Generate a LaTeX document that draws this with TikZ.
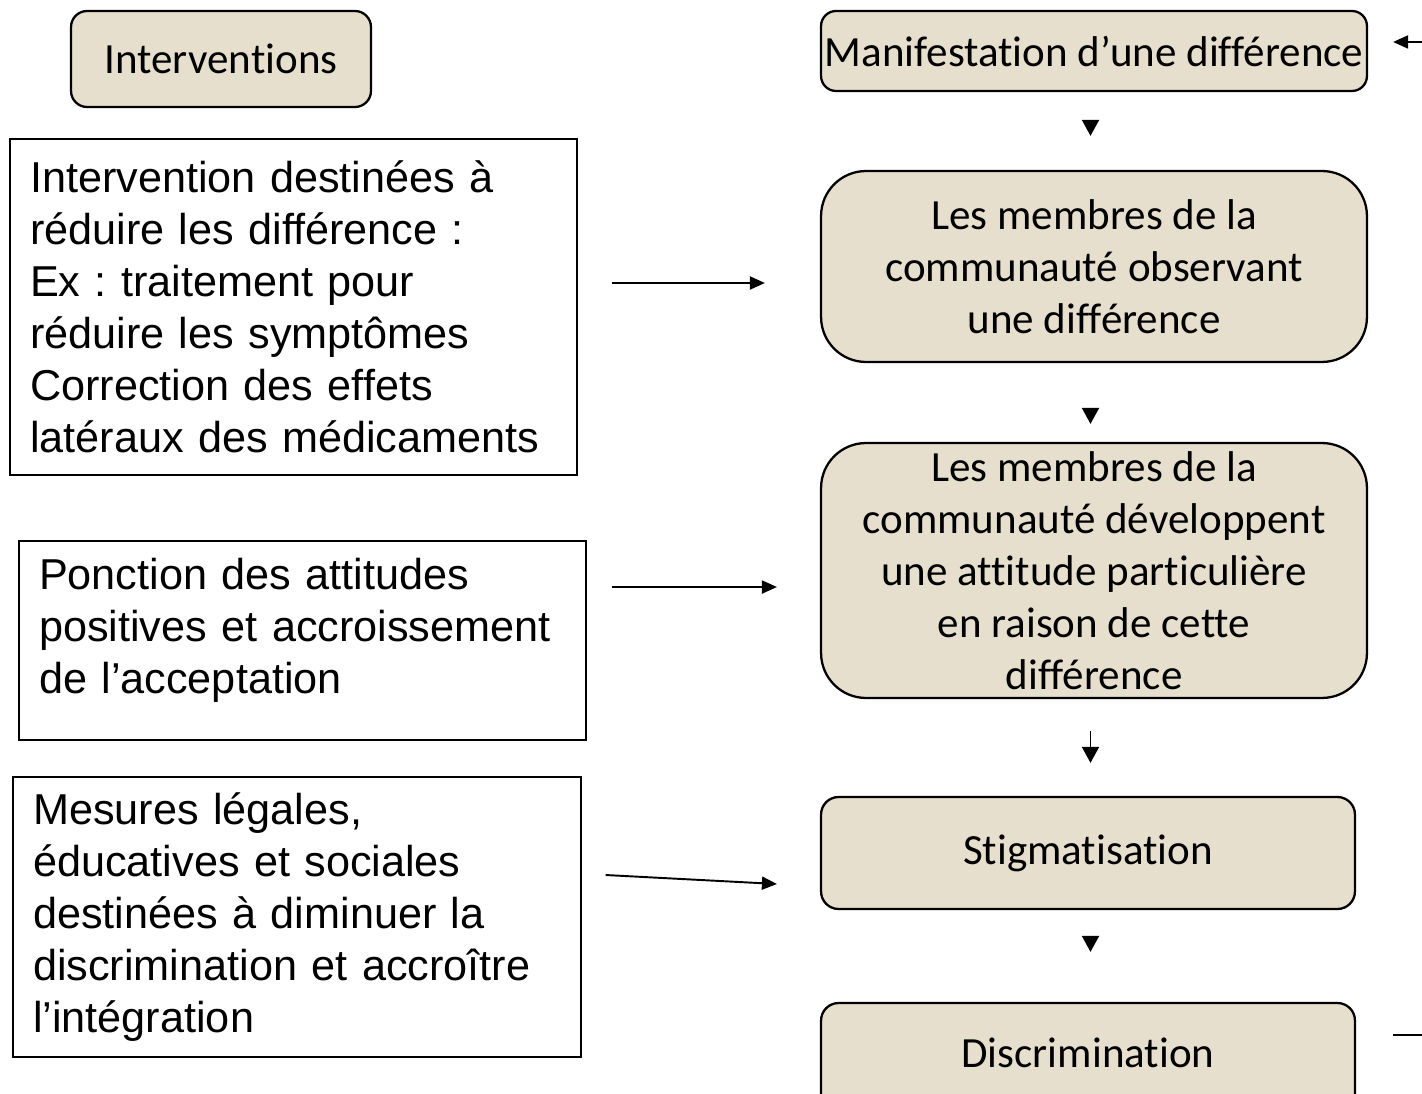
\documentclass[tikz,border=0pt]{standalone}
\usepackage{fontspec}
\setmainfont{Liberation Sans}
\newfontfamily\calibri[RawFeature={-liga;-clig;-calt;-dlig}]{Carlito}
\usetikzlibrary{arrows.meta}
\definecolor{boxbeige}{RGB}{231,223,205}
\frenchspacing
\tikzset{
  stagebox/.style={draw, line width=1.3pt, fill=boxbeige, align=center, inner sep=0pt,
    font=\calibri\fontsize{24.5}{29.6}\selectfont},
  actionbox/.style={draw, line width=0.8pt, align=left, inner sep=0pt, inner xsep=0.4cm,
    font=\fontsize{24.6}{29.6}\selectfont},
  arr/.style={line width=1.1pt, -{Triangle[length=0.3cm, width=0.26cm]}},
  downarr/.style={line width=1.1pt, -{Triangle[length=0.32cm, width=0.34cm]}}
}
\begin{document}
\begin{tikzpicture}[x=0.02cm, y=-0.02cm]
    \useasboundingbox (0, 0) rectangle (1422, 1094);
    \clip (0, 0) rectangle (1422, 1094);

    \node [stagebox, rounded corners=0.32cm, minimum width=6cm, minimum height=1.92cm] (intv) at (221, 59) {Interventions};

    \node [stagebox, rounded corners=0.3cm, minimum width=10.92cm, minimum height=1.6cm] (man) at (1094, 51) {Manifestation d’une différence};
    \node [stagebox, rounded corners=0.9cm, minimum width=10.92cm, minimum height=3.82cm] (obs) at (1094, 266.5) {Les membres de la\\communauté observant\\une différence};
    \node [stagebox, rounded corners=0.9cm, minimum width=10.92cm, minimum height=5.1cm] (dev) at (1094, 570.5) {Les membres de la\\communauté développent\\une attitude particulière\\en raison de cette\\différence};
    \node [stagebox, rounded corners=0.35cm, minimum width=10.68cm, minimum height=2.24cm] (stig) at (1088, 853) {Stigmatisation};
    \node [stagebox, rounded corners=0.35cm, minimum width=10.68cm, minimum height=2.3cm] (disc) at (1088, 1060.5) {\raisebox{0.32cm}{Discrimination}};

    \node [actionbox, minimum width=11.34cm, minimum height=6.72cm, text width=10.54cm] (red) at (293.5, 307) {Intervention destinées à\\réduire les différence :\\Ex : traitement pour\\réduire les symptômes\\Correction des effets\\latéraux des médicaments};
    \node [actionbox, minimum width=11.34cm, minimum height=3.98cm, text width=10.54cm] (att) at (302.5, 640.5) {Ponction des attitudes\\positives et accroissement\\de l’acceptation\\[-13pt]\mbox{}};
    \node [actionbox, minimum width=11.36cm, minimum height=5.6cm, text width=10.56cm] (leg) at (297, 917) {Mesures légales,\\éducatives et sociales\\destinées à diminuer la\\discrimination et accroître\\l’intégration};

    \draw [downarr, shorten <=0.6cm, shorten >=0.68cm] ([xshift=-2pt]man.south) -- ([xshift=-2pt]obs.north);
    \draw [downarr, shorten <=0.92cm, shorten >=0.36cm] ([xshift=-2pt]obs.south) -- ([xshift=-2pt]dev.north);
    \draw [downarr, shorten <=0.64cm, shorten >=0.66cm] ([xshift=-2pt]dev.south) -- ([xshift=-2pt]dev.south |- stig.north);
    \draw [downarr, shorten <=0.56cm, shorten >=1cm] ([xshift=-2pt]man.south |- stig.south) -- ([xshift=-2pt]man.south |- disc.north);

    \draw [arr] ([xshift=0.68cm, yshift=0.48cm]red.east) -- ([xshift=-1.1cm, yshift=0.48cm]red.east -| obs.west);
    \draw [arr] ([xshift=0.5cm, yshift=1.07cm]att.east) -- ([xshift=-0.86cm, yshift=1.07cm]att.east -| dev.west);
    \draw [arr] ([xshift=0.48cm, yshift=0.84cm]leg.east) -- ([xshift=-0.86cm, yshift=-0.62cm]stig.west);

    \coordinate (loopin) at (1430, 42);
    \coordinate (loopout) at (1430, 1035);
    \draw [arr, shorten >=0.5cm] (loopin) -- (loopin -| man.east);
    \draw [line width=1.1pt, shorten <=0.74cm] (loopout -| disc.east) -- (loopout);
  \end{tikzpicture}
\end{document}
